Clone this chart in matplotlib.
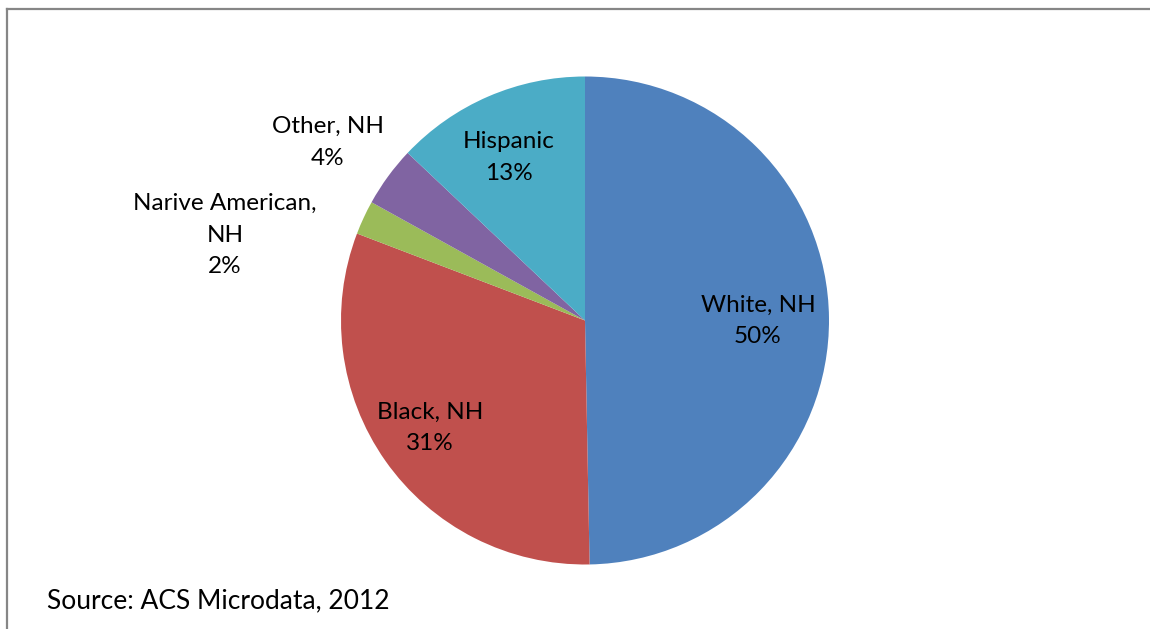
import matplotlib
matplotlib.use("Agg", force=True)

import numpy as np
import matplotlib.pyplot as plt
from matplotlib.lines import Line2D

plt.rcParams["font.family"] = ["Lato", "DejaVu Sans"]

# data (clockwise from 12 o'clock)
groups = ["White, NH", "Black, NH", "Narive American,\nNH", "Other, NH", "Hispanic"]
shares = [49.7, 31.1, 2.25, 4.0, 12.95]
pct_labels = ["50%", "31%", "2%", "4%", "13%"]
colors = ["#4F81BD", "#C0504D", "#9BBB59", "#8064A2", "#4BACC6"]

# label placement: distance from centre (radius units) and angle tweak (deg)
label_dist = [0.709, 0.773, 1.517, 1.283, 0.737]
label_turn = [-0.65, -0.4, 11.6, 1.5, 1.7]

W, H = 1150, 629
fig = plt.figure(figsize=(W / 100, H / 100), dpi=100)
fig.patch.set_facecolor("white")

# pie centre ~ (585, 320) px, radius ~ 244 px
cx, cy, r = 585, 320.5, 244
ax = fig.add_axes([(cx - r) / W, (H - cy - r) / H, 2 * r / W, 2 * r / H])

wedges, _ = ax.pie(shares, colors=colors, startangle=90, counterclock=False,
                   wedgeprops=dict(linewidth=0))
ax.set_xlim(-1, 1)
ax.set_ylim(-1, 1)
ax.set_aspect("auto")
ax.axis("off")

for w, name, pct, d, turn in zip(wedges, groups, pct_labels, label_dist, label_turn):
    mid = np.deg2rad((w.theta1 + w.theta2) / 2 + turn)
    ax.text(d * np.cos(mid), d * np.sin(mid), f"{name}\n{pct}",
            ha="center", va="center", fontsize=17.5, linespacing=1.62,
            color="black", clip_on=False)

fig.text(47 / W, 1 - 601 / H, "Source: ACS Microdata, 2012",
         ha="left", va="center", fontsize=19, color="black")

# chart frame (cropped at right and bottom)
fig.add_artist(Line2D([7 / W, 1], [1 - 8.5 / H, 1 - 8.5 / H],
                      transform=fig.transFigure, color="#868686", lw=1.6))
fig.add_artist(Line2D([7 / W, 7 / W], [0, 1 - 8.5 / H],
                      transform=fig.transFigure, color="#868686", lw=1.6))

fig.savefig("out.png", dpi=100)
plt.close(fig)
